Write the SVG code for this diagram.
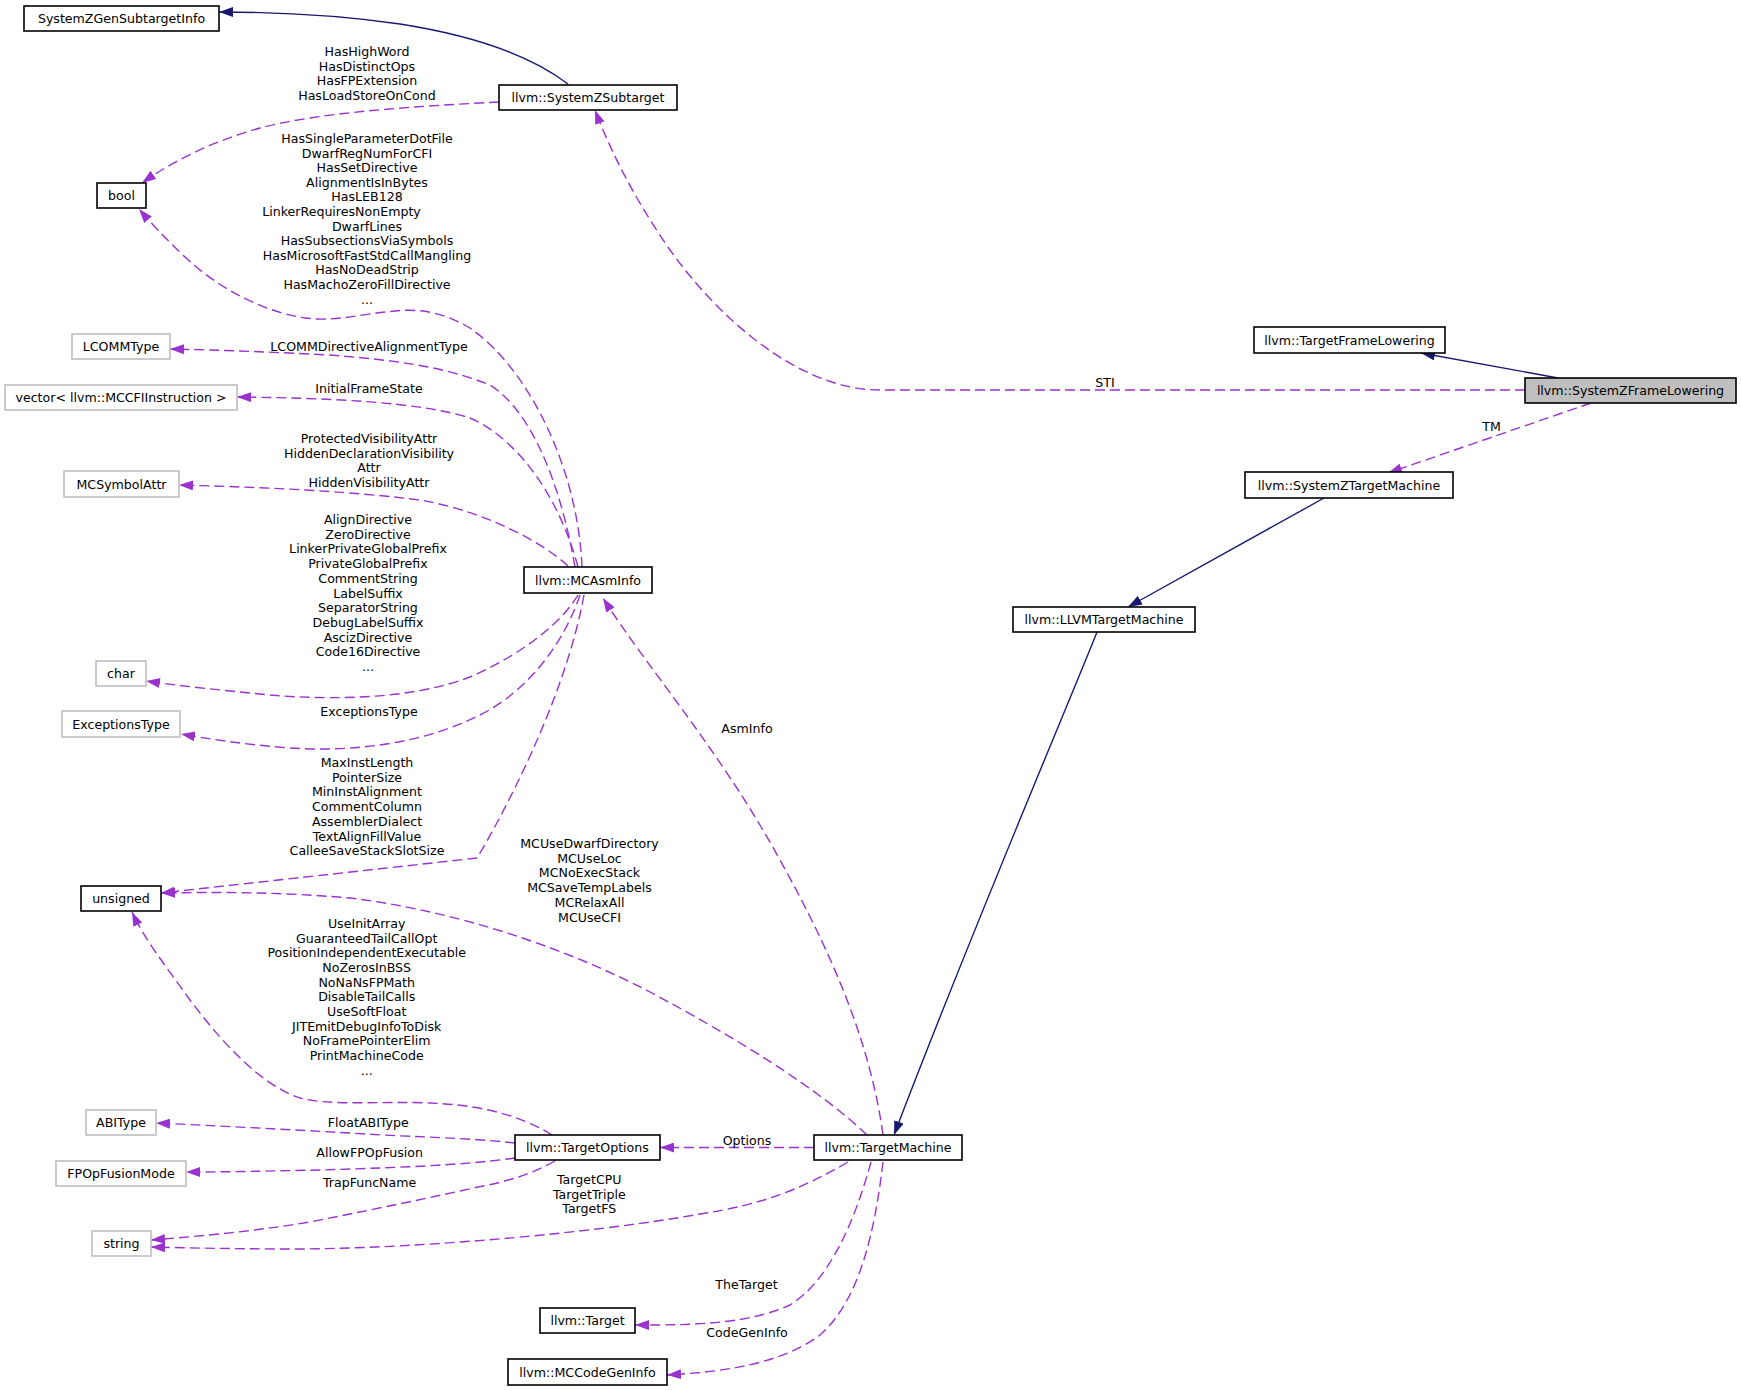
<svg xmlns="http://www.w3.org/2000/svg" width="1741" height="1391" viewBox="0 0 1741 1391">
<style>
text{font-family:"DejaVu Sans","Liberation Sans",sans-serif;font-size:12.6px;fill:#000;text-anchor:middle}
.nb rect{fill:#fff;stroke:#000;stroke-width:1.6}
.ng rect{fill:#fff;stroke:#bfbfbf;stroke-width:1.6}
.cur rect{fill:#bfbfbf;stroke:#000;stroke-width:1.6}
.inh{fill:none;stroke:#191970;stroke-width:1.4;marker-end:url(#ah)}
.use{fill:none;stroke:#9a32cd;stroke-width:1.4;stroke-dasharray:10,5;marker-end:url(#au)}
</style>
<defs>
<marker id="ah" viewBox="0 0 14 10" refX="14" refY="5" markerWidth="14" markerHeight="10" markerUnits="userSpaceOnUse" orient="auto"><path d="M0,0 L14,5 L0,10 z" fill="#191970"/></marker>
<marker id="au" viewBox="0 0 14 10" refX="14" refY="5" markerWidth="14" markerHeight="10" markerUnits="userSpaceOnUse" orient="auto"><path d="M0,0 L14,5 L0,10 z" fill="#9a32cd"/></marker>
</defs>
<rect x="0" y="0" width="1741" height="1391" fill="#fff"/>
<g id="connectors">
<path class="inh" d="M568,84 C530,55 470,35 400,24 C330,14 270,12 219,12"/>
<path class="inh" d="M1558,378 L1421,353"/>
<path class="inh" d="M1324,498 L1128,607"/>
<path class="inh" d="M1097,632 C1080,676 970,935 894,1135"/>
<path class="use" d="M1525,390 L880,390 C800,390 720,320 670,250 C635,200 610,150 595,110"/>
<path class="use" d="M1591,403 L1388,473"/>
<path class="use" d="M499,102 C420,106 320,112 260,128 C210,142 170,163 142,183"/>
<path class="use" d="M582,567 C578,470 530,370 470,328 C440,310 415,309 395,311 C360,314 335,322 305,318 C265,312 220,290 185,257 C165,238 150,222 139,209"/>
<path class="use" d="M575,567 C560,480 530,410 490,385 C440,365 390,360 330,355 C270,352 220,350 170,349"/>
<path class="use" d="M578,567 C560,500 520,440 470,418 C420,402 330,398 237,397"/>
<path class="use" d="M568,566 C540,540 480,510 420,500 C340,490 250,487 179,485"/>
<path class="use" d="M578,595 C560,625 520,655 470,677 C410,700 330,700 270,695 C220,690 180,686 146,681"/>
<path class="use" d="M580,595 C565,640 530,690 480,715 C420,745 350,752 290,748 C250,745 215,740 181,734"/>
<path class="use" d="M584,595 C565,700 500,820 477,858 L161,893"/>
<path class="use" d="M867,1135 C820,1090 740,1040 650,992 C560,945 450,910 350,898 C280,892 220,892 161,893"/>
<path class="use" d="M883,1135 C870,1040 830,950 780,860 C720,750 645,665 603,598"/>
<path class="use" d="M814,1147.5 L660,1147.5"/>
<path class="use" d="M848,1162 C800,1190 760,1205 700,1214 C600,1232 430,1248 300,1249 C240,1249 190,1248 151,1247"/>
<path class="use" d="M555,1161 C530,1175 505,1182 478,1187 C420,1200 360,1212 310,1222 C250,1232 190,1237 151,1240"/>
<path class="use" d="M515,1143 C470,1138 420,1137 383,1135 C300,1130 220,1126 156,1123"/>
<path class="use" d="M515,1158 C460,1166 380,1168 320,1170 C270,1171 230,1172 186,1172"/>
<path class="use" d="M552,1135 C520,1115 480,1105 430,1103 C380,1101 330,1106 300,1098 C260,1085 220,1040 190,1000 C165,965 145,940 132,912"/>
<path class="use" d="M871,1162 C855,1220 830,1280 790,1305 C745,1325 690,1325 635,1325"/>
<path class="use" d="M883,1162 C875,1230 860,1300 820,1335 C780,1365 720,1372 667,1375"/>
<g id="edge-labels">
<text x="367" y="56"><tspan x="367">HasHighWord</tspan><tspan x="367" dy="14.5">HasDistinctOps</tspan><tspan x="367" dy="14.5">HasFPExtension</tspan><tspan x="367" dy="14.5">HasLoadStoreOnCond</tspan></text>
<text x="367" y="143"><tspan x="367">HasSingleParameterDotFile</tspan><tspan x="367" dy="14.6">DwarfRegNumForCFI</tspan><tspan x="367" dy="14.6">HasSetDirective</tspan><tspan x="367" dy="14.6">AlignmentIsInBytes</tspan><tspan x="367" dy="14.6">HasLEB128</tspan><tspan x="341.5" dy="14.6">LinkerRequiresNonEmpty</tspan><tspan x="367" dy="14.6">DwarfLines</tspan><tspan x="367" dy="14.6">HasSubsectionsViaSymbols</tspan><tspan x="367" dy="14.6">HasMicrosoftFastStdCallMangling</tspan><tspan x="367" dy="14.6">HasNoDeadStrip</tspan><tspan x="367" dy="14.6">HasMachoZeroFillDirective</tspan><tspan x="367" dy="14.6">...</tspan></text>
<text x="369" y="351">LCOMMDirectiveAlignmentType</text>
<text x="369" y="393">InitialFrameState</text>
<text x="369" y="443"><tspan x="369">ProtectedVisibilityAttr</tspan><tspan x="369" dy="14.6">HiddenDeclarationVisibility</tspan><tspan x="369" dy="14.6">Attr</tspan><tspan x="369" dy="14.6">HiddenVisibilityAttr</tspan></text>
<text x="368" y="524"><tspan x="368">AlignDirective</tspan><tspan x="368" dy="14.7">ZeroDirective</tspan><tspan x="368" dy="14.7">LinkerPrivateGlobalPrefix</tspan><tspan x="368" dy="14.7">PrivateGlobalPrefix</tspan><tspan x="368" dy="14.7">CommentString</tspan><tspan x="368" dy="14.7">LabelSuffix</tspan><tspan x="368" dy="14.7">SeparatorString</tspan><tspan x="368" dy="14.7">DebugLabelSuffix</tspan><tspan x="368" dy="14.7">AscizDirective</tspan><tspan x="368" dy="14.7">Code16Directive</tspan><tspan x="368" dy="14.7">...</tspan></text>
<text x="369" y="715.5">ExceptionsType</text>
<text x="367" y="767"><tspan x="367">MaxInstLength</tspan><tspan x="367" dy="14.7">PointerSize</tspan><tspan x="367" dy="14.7">MinInstAlignment</tspan><tspan x="367" dy="14.7">CommentColumn</tspan><tspan x="367" dy="14.7">AssemblerDialect</tspan><tspan x="367" dy="14.7">TextAlignFillValue</tspan><tspan x="367" dy="14.7">CalleeSaveStackSlotSize</tspan></text>
<text x="589.5" y="848"><tspan x="589.5">MCUseDwarfDirectory</tspan><tspan x="589.5" dy="14.7">MCUseLoc</tspan><tspan x="589.5" dy="14.7">MCNoExecStack</tspan><tspan x="589.5" dy="14.7">MCSaveTempLabels</tspan><tspan x="589.5" dy="14.7">MCRelaxAll</tspan><tspan x="589.5" dy="14.7">MCUseCFI</tspan></text>
<text x="747" y="733">AsmInfo</text>
<text x="366.7" y="928"><tspan x="366.7">UseInitArray</tspan><tspan x="366.7" dy="14.66">GuaranteedTailCallOpt</tspan><tspan x="366.7" dy="14.66">PositionIndependentExecutable</tspan><tspan x="366.7" dy="14.66">NoZerosInBSS</tspan><tspan x="366.7" dy="14.66">NoNaNsFPMath</tspan><tspan x="366.7" dy="14.66">DisableTailCalls</tspan><tspan x="366.7" dy="14.66">UseSoftFloat</tspan><tspan x="366.7" dy="14.66">JITEmitDebugInfoToDisk</tspan><tspan x="366.7" dy="14.66">NoFramePointerElim</tspan><tspan x="366.7" dy="14.66">PrintMachineCode</tspan><tspan x="366.7" dy="14.66">...</tspan></text>
<text x="747" y="1144.5">Options</text>
<text x="368.3" y="1127">FloatABIType</text>
<text x="369.6" y="1157">AllowFPOpFusion</text>
<text x="369.6" y="1187">TrapFuncName</text>
<text x="589.3" y="1184"><tspan x="589.3">TargetCPU</tspan><tspan x="589.3" dy="14.7">TargetTriple</tspan><tspan x="589.3" dy="14.7">TargetFS</tspan></text>
<text x="746.5" y="1288.5">TheTarget</text>
<text x="747" y="1337">CodeGenInfo</text>
<text x="1105" y="387">STI</text>
<text x="1491.5" y="431">TM</text>
</g>
</g>
<g id="n-SystemZGenSubtargetInfo" class="nb"><rect x="24" y="6" width="195" height="25"/><text x="121.5" y="23">SystemZGenSubtargetInfo</text></g>
<g id="n-SystemZSubtarget" class="nb"><rect x="499" y="85" width="178" height="25"/><text x="588" y="102">llvm::SystemZSubtarget</text></g>
<g id="n-bool" class="nb"><rect x="97" y="183" width="49" height="25"/><text x="121.5" y="200">bool</text></g>
<g id="n-LCOMMType" class="ng"><rect x="72" y="334" width="98" height="25"/><text x="121" y="351">LCOMMType</text></g>
<g id="n-vector" class="ng"><rect x="5" y="385" width="232" height="25"/><text x="121" y="402">vector&lt; llvm::MCCFIInstruction &gt;</text></g>
<g id="n-MCSymbolAttr" class="ng"><rect x="64" y="471" width="115" height="26"/><text x="121.5" y="488.5">MCSymbolAttr</text></g>
<g id="n-MCAsmInfo" class="nb"><rect x="524" y="567" width="128" height="26"/><text x="588" y="584.5">llvm::MCAsmInfo</text></g>
<g id="n-char" class="ng"><rect x="96" y="661" width="50" height="25"/><text x="121" y="678">char</text></g>
<g id="n-ExceptionsType" class="ng"><rect x="62" y="711" width="118" height="26"/><text x="121" y="728.5">ExceptionsType</text></g>
<g id="n-unsigned" class="nb"><rect x="81" y="886" width="80" height="25"/><text x="121" y="903">unsigned</text></g>
<g id="n-ABIType" class="ng"><rect x="86" y="1110" width="70" height="25"/><text x="121" y="1127">ABIType</text></g>
<g id="n-FPOpFusionMode" class="ng"><rect x="56" y="1161" width="130" height="25"/><text x="121" y="1178">FPOpFusionMode</text></g>
<g id="n-string" class="ng"><rect x="92" y="1231" width="59" height="25"/><text x="121.5" y="1248">string</text></g>
<g id="n-TargetOptions" class="nb"><rect x="515" y="1135" width="145" height="25"/><text x="587.5" y="1152">llvm::TargetOptions</text></g>
<g id="n-TargetMachine" class="nb"><rect x="814" y="1135" width="148" height="25"/><text x="888" y="1152">llvm::TargetMachine</text></g>
<g id="n-Target" class="nb"><rect x="540" y="1308" width="95" height="25"/><text x="587.5" y="1325">llvm::Target</text></g>
<g id="n-MCCodeGenInfo" class="nb"><rect x="508" y="1359" width="159" height="26"/><text x="587.5" y="1376.5">llvm::MCCodeGenInfo</text></g>
<g id="n-LLVMTargetMachine" class="nb"><rect x="1013" y="607" width="182" height="25"/><text x="1104" y="624">llvm::LLVMTargetMachine</text></g>
<g id="n-SystemZTargetMachine" class="nb"><rect x="1245" y="472" width="208" height="26"/><text x="1349" y="489.5">llvm::SystemZTargetMachine</text></g>
<g id="n-TargetFrameLowering" class="nb"><rect x="1254" y="327" width="191" height="26"/><text x="1349.5" y="344.5">llvm::TargetFrameLowering</text></g>
<g id="n-SystemZFrameLowering" class="cur"><rect x="1525" y="378" width="211" height="25"/><text x="1630.5" y="395">llvm::SystemZFrameLowering</text></g>
</svg>
